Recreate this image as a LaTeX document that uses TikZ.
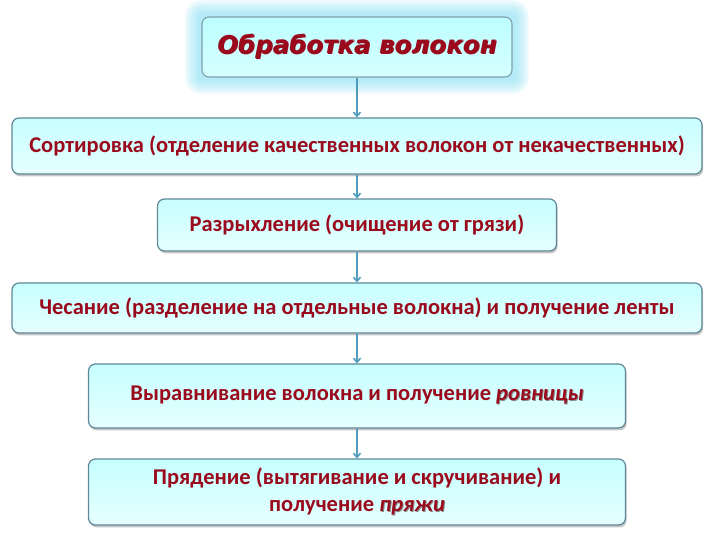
\documentclass[tikz,border=0pt]{standalone}
\usepackage{fontspec}
\setmainfont{Carlito}
\newfontfamily\headfont{DejaVu Sans}
\usepackage{tikz}
\usetikzlibrary{arrows.meta,shadows,backgrounds}
\definecolor{boxred}{HTML}{9A0A1C}
\definecolor{boxline}{HTML}{5F8798}
\definecolor{arrowblue}{HTML}{4F9CBF}
\definecolor{glowcyan}{HTML}{7FDCF2}
\newcommand{\shtxt}[1]{\rlap{\hspace{1pt}\raisebox{-1pt}{\color{black!45}#1}}#1}
\tikzset{
    mybox/.style={draw=boxline,line width=1.2pt,rounded corners=7pt,
      top color=cyan!22,bottom color=cyan!10,text=boxred,align=center,
      drop shadow={shadow xshift=1.2pt,shadow yshift=-2.4pt,opacity=.45},
      font=\bfseries\fontsize{22.5}{27}\selectfont},
    myhead/.style={draw=boxline!80,line width=1.1pt,rounded corners=7pt,
      top color=cyan!26,bottom color=cyan!16,
      font=\headfont\bfseries\itshape\fontsize{24.5}{28}\selectfont},
    myarrow/.style={-{Straight Barb[length=4pt,width=7pt]},line width=1.6pt,draw=arrowblue}
}
\begin{document}
\begin{tikzpicture}[x=1pt,y=-1pt]
  \useasboundingbox (0,0) rectangle (720,540);
  \node[myhead,minimum width=310pt,minimum height=60pt] (head) at (357,47)
    {\shtxt{\color{boxred}Обработка волокон}};
  \begin{scope}[on background layer]
    \foreach \g in {16,13,10,7,4}
      \fill[glowcyan,opacity=.16,rounded corners=\g pt]
        ([shift={(-\g,\g)}]head.south west) rectangle ([shift={(\g,-\g)}]head.north east);
  \end{scope}
  \node[mybox,minimum width=690pt,minimum height=56pt] (sort) at (357,146)
    {Сортировка (отделение качественных волокон от некачественных)};
  \node[mybox,minimum width=399pt,minimum height=52pt] (loosen) at (357,225)
    {Разрыхление (очищение от грязи)};
  \node[mybox,minimum width=690pt,minimum height=50pt] (comb) at (357,308)
    {Чесание (разделение на отдельные волокна) и получение ленты};
  \node[mybox,minimum width=537pt,minimum height=64pt] (level) at (357,396)
    {Выравнивание волокна и получение \shtxt{\textit{ровницы}}};
  \node[mybox,minimum width=537pt,minimum height=66pt] (spin) at (357,492)
    {Прядение (вытягивание и скручивание) и\\получение \shtxt{\textit{пряжи}}};
  \draw[myarrow] (head) -- (sort);
  \draw[myarrow] (sort) -- (loosen);
  \draw[myarrow] (loosen) -- (comb);
  \draw[myarrow] (comb) -- (level);
  \draw[myarrow] (level) -- (spin);
\end{tikzpicture}
\end{document}
